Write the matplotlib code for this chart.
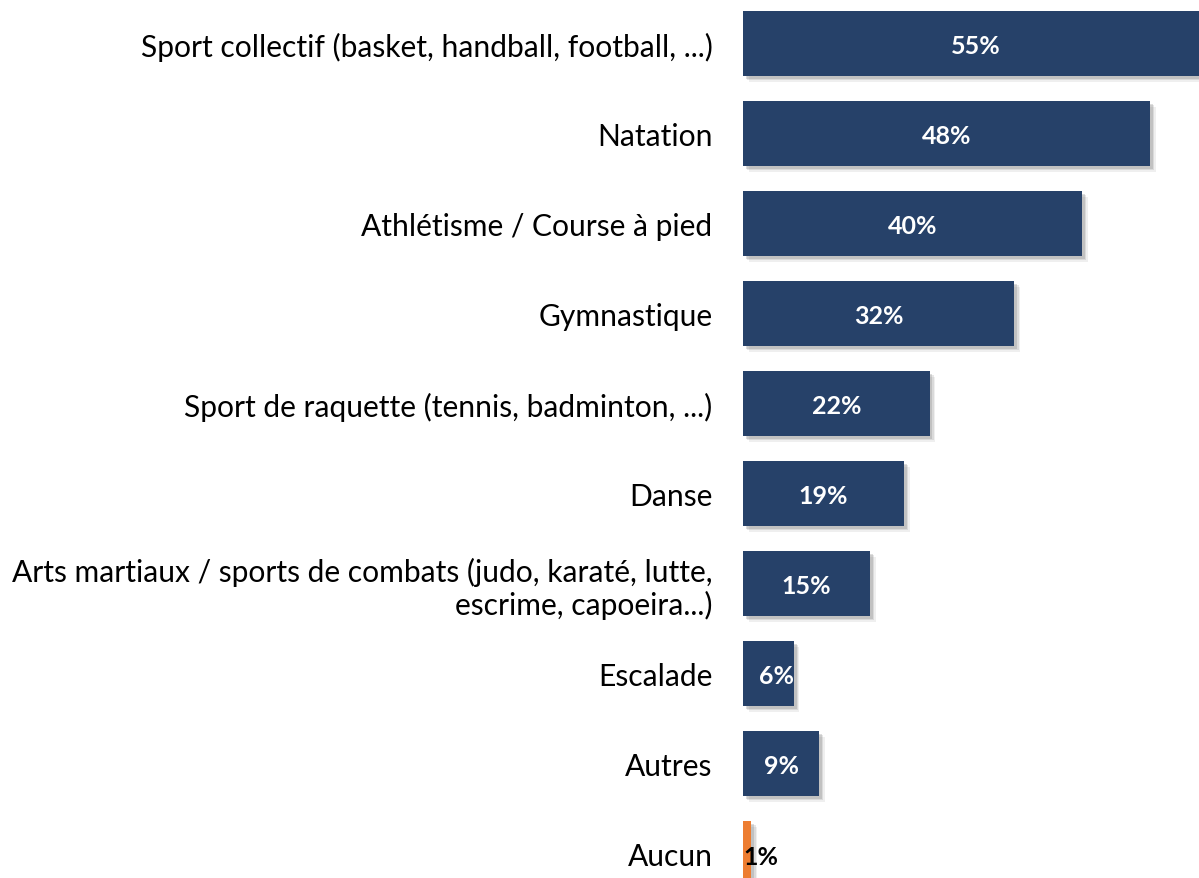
import matplotlib.pyplot as plt
import matplotlib.patheffects as pe

categories = [
    "Sport collectif (basket, handball, football, ...)",
    "Natation",
    "Athlétisme / Course à pied",
    "Gymnastique",
    "Sport de raquette (tennis, badminton, ...)",
    "Danse",
    "Arts martiaux / sports de combats (judo, karaté, lutte,\nescrime, capoeira...)",
    "Escalade",
    "Autres",
    "Aucun",
]
values = [55, 48, 40, 32, 22, 19, 15, 6, 9, 1]
bar_colors = ["#264169"] * 9 + ["#ED7D31"]
label_colors = ["white"] * 9 + ["black"]

plt.rcParams['font.family'] = ['Lato', 'DejaVu Sans']

fig = plt.figure(figsize=(11.99, 8.79), dpi=100)
ax = fig.add_axes([743 / 1199, 0, 456 / 1199, 1])

ypos = list(range(len(categories)))
# soft drop shadow, a few stacked layers
shadow = [
    pe.SimplePatchShadow(offset=(4, -4), shadow_rgbFace="#9a9a9a", alpha=0.15),
    pe.SimplePatchShadow(offset=(3, -3), shadow_rgbFace="#8a8a8a", alpha=0.2),
    pe.SimplePatchShadow(offset=(2, -2), shadow_rgbFace="#7a7a7a", alpha=0.25),
    pe.Normal(),
]
bars = ax.barh(ypos, values, height=0.722, color=bar_colors)
for b in bars:
    b.set_path_effects(shadow)

ax.set_xlim(0, 456 / 8.48)
ax.set_ylim(9.272, -0.494)

for y, v, c in zip(ypos, values, label_colors):
    if c == "black":
        ax.text(0.05, y + 0.03, f"{v}%", ha="left", va="center", color=c,
                fontsize=18, fontweight="bold")
    else:
        ax.text(max(v / 2, 4), y + 0.02, f"{v}%", ha="center", va="center", color=c,
                fontsize=18, fontweight="bold")

ax.set_yticks(ypos)
ax.set_yticklabels(categories, fontsize=21.6, ha="right", linespacing=1.15)
ax.tick_params(axis="y", length=0, pad=22)
ax.set_xticks([])
for s in ax.spines.values():
    s.set_visible(False)

fig.savefig("out.png", dpi=100)
